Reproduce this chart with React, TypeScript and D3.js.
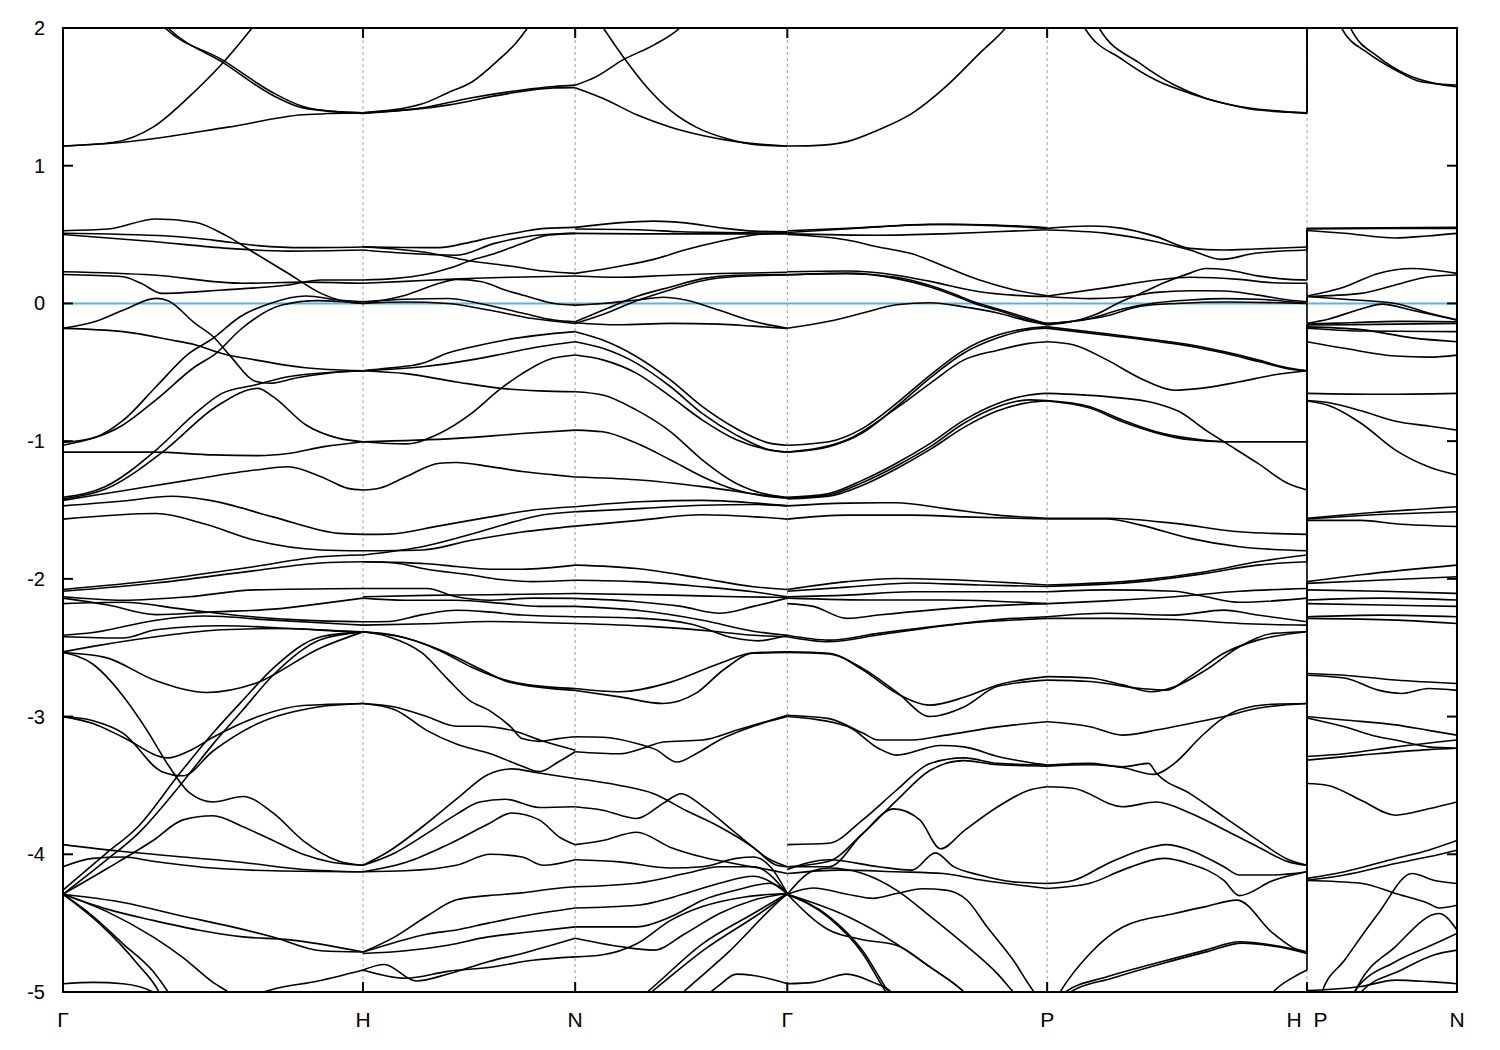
import React from 'react';
import * as d3 from 'd3';

// High-symmetry path (k-distance, bcc lattice units)
const kLabels = ['Γ', 'H', 'N', 'Γ', 'P', 'H  P', 'N'];
const kNodes = [0, 1, 1.7071, 2.4142, 3.2802, 4.1463, 4.6463];
const segStarts = [0, 1, 1.7071, 2.4142, 3.2802, 4.1463];
const segEnds = [1, 1.7071, 2.4142, 3.2802, 4.1463, 4.6463];
const yTicks = [2, 1, 0, -1, -2, -3, -4, -5];
const fermiEnergy = 0;

// Each band: [t, E, t, E, ...], t = position along segment in tenths (0..10), E in eV
const bandsGH = [
  [0,1.143, 1.7,1.17, 3,1.28, 4.2,1.5, 5.3,1.74, 6.3,2.0, 7,2.2],
  [0,1.143, 2,1.17, 5.5,1.28, 8,1.37, 10,1.385],
  [2.6,2.2, 3.4,2.0, 5.3,1.77, 7,1.53, 8,1.43, 9,1.395, 10,1.385],
  [2.7,2.2, 3.5,2.0, 5.4,1.74, 7,1.51, 8,1.42, 10,1.38],
  [0,0.528, 1.5,0.54, 3.1,0.613, 4.4,0.59, 5.5,0.485, 6.4,0.364, 7.5,0.219, 8.6,0.073, 9.5,0.01, 10,0.0],
  [0,0.51, 3.5,0.49, 5,0.46, 6.5,0.42, 8,0.405, 10,0.41],
  [0,0.50, 3,0.45, 5.5,0.40, 7.5,0.38, 10,0.388],
  [0,0.23, 3,0.206, 6,0.146, 8,0.155, 10,0.146],
  [0,0.21, 2,0.194, 2.6,0.146, 3.3,0.073, 5.3,0.097, 7.5,0.134, 8.6,0.17, 10,0.17],
  [0,-0.181, 1.1,-0.13, 2,-0.05, 3.1,0.037, 3.5,0.02, 4.4,-0.145, 5,-0.24, 5.6,-0.388, 6.4,-0.565, 6.9,-0.58, 7.8,-0.54, 8.9,-0.505, 10,-0.489],
  [0,-0.181, 2,-0.205, 3.6,-0.265, 4.4,-0.30, 5.3,-0.363, 6.4,-0.41, 8,-0.465, 10,-0.489],
  [0,-1.01, 1.1,-0.97, 2,-0.85, 3.1,-0.605, 4.2,-0.363, 5,-0.254, 5.9,-0.097, 6.9,0.0, 8.1,0.054, 9.2,0.025, 10,0.012],
  [0,-1.03, 2,-0.883, 3.1,-0.70, 4.4,-0.46, 5.1,-0.363, 5.9,-0.193, 7.3,-0.012, 8.5,0.02, 10,0.0],
  [0,-1.08, 3,-1.08, 5,-1.10, 6.5,-1.105, 7.5,-1.09, 8.7,-1.04, 10,-1.004],
  [0,-1.408, 1.4,-1.331, 3.1,-1.065, 4.4,-0.80, 5.3,-0.653, 6.4,-0.593, 7.5,-0.532, 10,-0.489],
  [0,-1.42, 1.4,-1.35, 3.4,-1.065, 5.1,-0.75, 6.5,-0.617, 7,-0.677, 8.1,-0.883, 9.2,-0.98, 10,-1.004],
  [0,-1.43, 2,-1.36, 4.2,-1.283, 6.4,-1.21, 7.5,-1.186, 8.6,-1.258, 9.5,-1.343, 10,-1.355],
  [0,-1.47, 2,-1.435, 3.6,-1.40, 4.9,-1.43, 7,-1.55, 9.2,-1.67, 10,-1.677],
  [0,-1.566, 3.1,-1.525, 4.7,-1.60, 6.4,-1.72, 8.6,-1.79, 10,-1.796],
  [0,-2.077, 3.1,-2.01, 6.4,-1.91, 8.6,-1.84, 10,-1.827],
  [0,-2.09, 3.1,-2.03, 6.4,-1.94, 8.6,-1.885, 10,-1.876],
  [0,-2.13, 2,-2.155, 4.2,-2.13, 6.4,-2.08, 10,-2.07],
  [0,-2.14, 1.5,-2.19, 3.1,-2.26, 5,-2.24, 7,-2.22, 8.6,-2.18, 10,-2.14],
  [0,-2.18, 2,-2.17, 4,-2.22, 6,-2.27, 8,-2.30, 10,-2.312],
  [0,-2.41, 1,-2.39, 3.1,-2.30, 4.7,-2.27, 7,-2.30, 10,-2.336],
  [0,-2.42, 2,-2.43, 3.1,-2.37, 5.3,-2.34, 7.5,-2.36, 10,-2.384],
  [0,-2.53, 1,-2.49, 3.1,-2.42, 5.3,-2.37, 7.5,-2.36, 9.2,-2.38, 10,-2.384],
  [0,-2.535, 1.4,-2.57, 3.1,-2.74, 4.8,-2.825, 6.4,-2.76, 8.6,-2.50, 10,-2.385],
  [0,-4.26, 1.4,-4.0, 2.5,-3.8, 3.9,-3.41, 5,-3.12, 6,-2.88, 7,-2.65, 8.6,-2.42, 10,-2.385],
  [0,-4.29, 1.4,-4.05, 2.5,-3.85, 3.9,-3.5, 5,-3.2, 6,-2.95, 7,-2.70, 8.6,-2.44, 10,-2.385],
  [0,-3.0, 1,-3.05, 2,-3.15, 3.5,-3.30, 4.2,-3.25, 5,-3.15, 6.5,-3.0, 8,-2.92, 10,-2.905],
  [0,-3.0, 1,-3.03, 2,-3.12, 3.3,-3.40, 4,-3.43, 5,-3.25, 6.5,-3.05, 8.5,-2.93, 10,-2.905],
  [0,-2.535, 1,-2.62, 2,-2.85, 2.8,-3.1, 3.5,-3.35, 4.2,-3.55, 5,-3.62, 6,-3.58, 7,-3.7, 8,-3.9, 9.2,-4.05, 10,-4.08],
  [0,-3.93, 2,-3.98, 4,-4.02, 6,-4.06, 8,-4.11, 10,-4.127],
  [0,-4.09, 1,-4.03, 2,-4.02, 3,-4.05, 5,-4.10, 7,-4.12, 10,-4.127],
  [0,-4.29, 1.5,-4.1, 3,-3.9, 4,-3.75, 5,-3.72, 6,-3.8, 7,-3.9, 8,-4.0, 9,-4.06, 10,-4.08],
  [0,-4.29, 1,-4.45, 2,-4.65, 3,-4.85, 3.5,-5.0, 4,-5.2],
  [0,-4.29, 1.2,-4.5, 2.5,-4.8, 3.2,-5.0, 3.6,-5.2],
  [0,-4.29, 1.5,-4.42, 3,-4.6, 4,-4.75, 5,-4.93, 5.5,-5.0, 6,-5.1],
  [0,-4.29, 1.5,-4.40, 3,-4.48, 4.5,-4.55, 6,-4.6, 7.5,-4.62, 10,-4.71],
  [0,-4.29, 2,-4.35, 4,-4.45, 5.5,-4.52, 7,-4.6, 8.6,-4.7, 10,-4.71],
  [0,-4.94, 1,-4.93, 2,-4.94, 3,-5.0, 3.5,-5.1],
  [6,-5.05, 7,-4.98, 8.5,-4.92, 10,-4.84],
];

const bandsHN = [
  [0,1.385, 2.8,1.45, 4,1.53, 5.15,1.61, 6.4,1.77, 7.2,1.89, 7.75,2.0, 8.5,2.2],
  [0,1.385, 2.8,1.42, 5,1.49, 7.5,1.55, 9,1.575, 10,1.585],
  [0,1.38, 4,1.44, 6.7,1.52, 9,1.565, 10,1.567],
  [0,0.412, 3.6,0.405, 4.8,0.436, 6.2,0.484, 7.5,0.521, 8.6,0.545, 10,0.552],
  [0,0.388, 2,0.364, 4.4,0.35, 6.2,0.436, 8.3,0.497, 10,0.509],
  [0,0.17, 1.55,0.182, 2.8,0.206, 4.05,0.255, 5.15,0.315, 6.24,0.364, 7.5,0.436, 8.75,0.497, 10,0.509],
  [0,0.41, 3,0.37, 5,0.31, 7,0.27, 8.5,0.235, 10,0.218],
  [0,0.146, 2,0.16, 4,0.175, 7,0.19, 10,0.199],
  [0,0.0, 2,0.06, 3.6,0.146, 4.4,0.175, 5.6,0.158, 6.7,0.097, 7.8,0.049, 9,0.0, 10,-0.012],
  [0,0.012, 2,0.03, 4,0.036, 5.5,0.0, 7.5,-0.07, 9,-0.12, 10,-0.133],
  [0,0.0, 2,0.01, 4,0.0, 6,-0.05, 8,-0.11, 10,-0.145],
  [0,-0.489, 1.2,-0.47, 2.8,-0.435, 4,-0.36, 5.6,-0.30, 6.7,-0.265, 8.3,-0.23, 10,-0.205],
  [0,-0.489, 2.8,-0.46, 5.1,-0.41, 6.7,-0.363, 8.3,-0.315, 10,-0.278],
  [0,-1.004, 2,-1.02, 3.6,-0.944, 5.1,-0.80, 6.4,-0.63, 7.5,-0.51, 8.7,-0.41, 10,-0.375],
  [0,-0.489, 2,-0.51, 4.4,-0.57, 6.4,-0.615, 8.3,-0.635, 10,-0.641],
  [0,-1.004, 4.4,-0.98, 7.5,-0.945, 10,-0.92],
  [0,-1.355, 0.8,-1.34, 2,-1.26, 3.6,-1.16, 4.4,-1.155, 6,-1.185, 7.5,-1.22, 9,-1.245, 10,-1.26],
  [0,-1.677, 1.2,-1.675, 3.6,-1.615, 6,-1.55, 8,-1.50, 10,-1.476],
  [0,-1.796, 2.8,-1.79, 5.1,-1.72, 7.5,-1.66, 10,-1.617],
  [0,-1.827, 3,-1.76, 5,-1.68, 7,-1.59, 8.5,-1.535, 10,-1.513],
  [0,-1.876, 1.5,-1.88, 3,-1.89, 4.4,-1.91, 6,-1.93, 7.5,-1.93, 10,-1.90],
  [0,-1.876, 1.5,-1.885, 3,-1.93, 5,-1.97, 6.5,-2.005, 8,-2.02, 10,-2.01],
  [0,-2.07, 3,-2.07, 4.4,-2.13, 6,-2.155, 8,-2.14, 10,-2.142],
  [0,-2.14, 2,-2.155, 4.4,-2.155, 6.7,-2.18, 8.3,-2.2, 10,-2.2],
  [0,-2.13, 3,-2.12, 6,-2.115, 10,-2.106],
  [0,-2.312, 1.2,-2.31, 2.8,-2.26, 4.4,-2.228, 5.9,-2.24, 7.5,-2.263, 10,-2.275],
  [0,-2.336, 3,-2.326, 6,-2.31, 10,-2.324],
  [0,-2.384, 1.5,-2.41, 3.6,-2.52, 5.1,-2.64, 6.7,-2.735, 7.8,-2.77, 10,-2.796],
  [0,-2.384, 2,-2.43, 4,-2.54, 5.6,-2.66, 6.9,-2.75, 10,-2.81],
  [0,-2.384, 1.2,-2.42, 2.8,-2.54, 4,-2.73, 5,-2.88, 6,-2.96, 7,-3.08, 7.5,-3.16, 8.3,-3.18, 9.2,-3.16, 10,-3.147],
  [0,-2.905, 1.5,-2.93, 3,-3.0, 4.4,-3.07, 5.5,-3.07, 7,-3.1, 8.5,-3.18, 10,-3.244],
  [0,-2.905, 1.5,-2.95, 3,-3.1, 4.4,-3.2, 6,-3.27, 7.5,-3.36, 8.3,-3.40, 9.2,-3.33, 10,-3.255],
  [0,-4.08, 1.2,-3.98, 2.8,-3.8, 4.4,-3.6, 5.9,-3.42, 7,-3.38, 8.3,-3.41, 10,-3.45],
  [0,-4.08, 1.5,-3.99, 3,-3.85, 4.4,-3.71, 5.5,-3.62, 6.7,-3.60, 8.3,-3.66, 10,-3.655],
  [0,-4.127, 2,-4.06, 4,-3.93, 5.9,-3.78, 7,-3.70, 8.3,-3.75, 9.3,-3.88, 10,-3.93],
  [0,-4.127, 2,-4.12, 4.4,-4.08, 6,-4.0, 7.5,-4.02, 8.5,-4.08, 10,-4.04],
  [0,-4.71, 1.5,-4.6, 3,-4.45, 4.4,-4.33, 5.9,-4.3, 7.5,-4.28, 9,-4.25, 10,-4.236],
  [0,-4.71, 1.5,-4.64, 3,-4.58, 4.4,-4.55, 5.9,-4.5, 7.5,-4.45, 10,-4.39],
  [0,-4.72, 2,-4.70, 4,-4.66, 5.9,-4.6, 7.5,-4.57, 10,-4.527],
  [0,-4.84, 1,-4.80, 2.5,-4.92, 4,-4.87, 5.9,-4.78, 7.5,-4.72, 10,-4.61],
  [0,-4.84, 2,-4.90, 4,-4.85, 6,-4.82, 8,-4.77, 10,-4.745],
];

const bandsNG = [
  [0.5,2.2, 1.33,2.0, 2.27,1.79, 3.5,1.55, 4.5,1.40, 5.7,1.28, 7.3,1.19, 8.5,1.153, 10,1.143],
  [0,1.585, 1,1.647, 2.27,1.77, 3.7,1.876, 4.93,2.0, 6,2.2],
  [0,1.567, 1.3,1.49, 2.9,1.37, 4.5,1.28, 6,1.22, 7.6,1.175, 10,1.143],
  [0,0.552, 2,0.585, 3.7,0.598, 5.2,0.585, 6.8,0.55, 8.4,0.525, 10,0.52],
  [0,0.54, 3,0.535, 5,0.52, 7,0.515, 10,0.51],
  [0,0.509, 3,0.505, 6,0.505, 10,0.505],
  [0,0.218, 2.1,0.27, 3.7,0.32, 5.2,0.39, 6.8,0.45, 8.4,0.497, 10,0.515],
  [0,0.199, 2,0.19, 4.5,0.205, 6.8,0.217, 10,0.226],
  [0,-0.133, 1.3,-0.05, 2.9,0.05, 4.5,0.12, 6,0.18, 7.6,0.205, 10,0.21],
  [0,-0.145, 1.3,-0.08, 2.9,0.02, 4.5,0.10, 6,0.165, 7.6,0.195, 10,0.206],
  [0,-0.012, 1.3,0.0, 2.9,0.025, 4.15,0.045, 5.2,0.025, 6.8,-0.05, 8.4,-0.13, 10,-0.18],
  [0,-0.14, 2,-0.155, 4.5,-0.145, 6.8,-0.15, 8.4,-0.165, 10,-0.181],
  [0,-0.205, 1.3,-0.266, 2.9,-0.387, 4.5,-0.557, 6,-0.75, 7.6,-0.91, 9.2,-1.016, 10,-1.03],
  [0,-0.278, 1.3,-0.326, 2.9,-0.435, 4.5,-0.605, 6,-0.80, 7.6,-0.956, 9.2,-1.065, 10,-1.08],
  [0,-0.375, 1.3,-0.41, 2.9,-0.508, 4.5,-0.677, 6,-0.847, 7.6,-0.99, 9.2,-1.065, 10,-1.08],
  [0,-0.641, 1.3,-0.665, 2.9,-0.775, 4.5,-0.932, 6,-1.137, 7.6,-1.307, 9.2,-1.392, 10,-1.408],
  [0,-0.92, 1.3,-0.932, 2.9,-1.016, 4.5,-1.137, 6,-1.258, 7.6,-1.355, 9.2,-1.404, 10,-1.415],
  [0,-1.26, 2.9,-1.28, 6,-1.33, 9.2,-1.40, 10,-1.415],
  [0,-1.476, 3,-1.44, 6,-1.43, 8.5,-1.45, 10,-1.47],
  [0,-1.513, 3,-1.49, 6,-1.465, 8.5,-1.46, 10,-1.47],
  [0,-1.617, 3,-1.575, 6,-1.535, 8.5,-1.55, 10,-1.566],
  [0,-1.90, 2.9,-1.925, 6,-1.997, 8.4,-2.057, 10,-2.077],
  [0,-2.01, 2.9,-2.02, 6,-2.057, 8.4,-2.094, 10,-2.13],
  [0,-2.106, 4.5,-2.118, 7.6,-2.13, 10,-2.135],
  [0,-2.142, 2.9,-2.166, 5,-2.2, 6.8,-2.25, 8.4,-2.2, 10,-2.14],
  [0,-2.2, 3,-2.23, 6,-2.30, 8.4,-2.38, 10,-2.41],
  [0,-2.275, 3,-2.285, 5.5,-2.33, 7.5,-2.43, 8.6,-2.45, 10,-2.41],
  [0,-2.324, 3.5,-2.345, 6.5,-2.38, 8.4,-2.41, 10,-2.42],
  [0,-2.796, 2.1,-2.82, 4.5,-2.75, 6.8,-2.614, 8.4,-2.537, 10,-2.53],
  [0,-2.81, 2.1,-2.857, 4.15,-2.905, 5.7,-2.83, 7,-2.66, 8.4,-2.54, 10,-2.535],
  [0,-3.147, 1.3,-3.15, 2.9,-3.195, 3.8,-3.24, 4.8,-3.33, 5.7,-3.27, 6.8,-3.17, 8.4,-3.07, 10,-3.0],
  [0,-3.255, 2.1,-3.27, 3.2,-3.23, 4.15,-3.185, 6,-3.17, 7.6,-3.10, 10,-2.99],
  [0,-3.45, 2.1,-3.5, 3.7,-3.56, 5.2,-3.68, 6.8,-3.8, 8.4,-3.95, 9.5,-4.08, 10,-4.09],
  [0,-3.655, 1.3,-3.68, 2.9,-3.74, 4.15,-3.63, 5,-3.56, 6,-3.65, 7.6,-3.85, 9.2,-4.04, 10,-4.09],
  [0,-3.93, 1.3,-3.9, 2.9,-3.84, 4.5,-3.95, 6,-4.02, 7.6,-4.07, 9.2,-4.115, 10,-4.14],
  [0,-4.04, 2.1,-4.055, 4.5,-4.1, 6,-4.09, 7.6,-4.03, 8.4,-4.02, 9.2,-4.09, 10,-4.285],
  [0,-4.236, 2.9,-4.21, 5.2,-4.14, 6.8,-4.09, 8.4,-4.09, 10,-4.285],
  [0,-4.39, 2.9,-4.37, 5.2,-4.285, 6.8,-4.21, 8.4,-4.16, 10,-4.285],
  [0,-4.527, 2.9,-4.527, 4.5,-4.454, 6,-4.333, 7.6,-4.26, 9.2,-4.21, 10,-4.285],
  [0,-4.61, 2.1,-4.67, 3.7,-4.696, 5.2,-4.575, 6.8,-4.43, 8.4,-4.333, 10,-4.285],
  [0,-4.745, 1.3,-4.73, 2.9,-4.65, 4.5,-4.48, 6,-4.38, 8,-4.31, 10,-4.285],
  [2.6,-5.1, 3.4,-5.0, 6,-4.65, 8.4,-4.43, 10,-4.285],
  [2.8,-5.1, 3.6,-5.0, 6.2,-4.68, 8.5,-4.45, 10,-4.29],
  [4.4,-5.1, 5.1,-5.0, 7.3,-4.7, 9.2,-4.4, 10,-4.285],
  [6,-5.05, 6.8,-4.95, 7.6,-4.87, 8.4,-4.88, 10,-4.94],
];

const bandsGP = [
  [0,1.143, 1,1.146, 2.3,1.175, 3.5,1.26, 4.8,1.38, 6.1,1.574, 7.4,1.816, 8.4,2.0, 9.5,2.3],
  [0,0.528, 2.3,0.545, 4.8,0.57, 6.1,0.575, 8,0.57, 10,0.55],
  [0,0.515, 3,0.55, 5.5,0.574, 8,0.565, 10,0.545],
  [0,0.505, 3.5,0.495, 6,0.505, 8,0.52, 10,0.535],
  [0,0.50, 2.3,0.46, 3.5,0.41, 4.8,0.36, 6.1,0.265, 7.4,0.17, 8.7,0.10, 10,0.055],
  [0,0.23, 2.3,0.235, 4.2,0.205, 5.5,0.16, 7.4,0.085, 8.7,0.06, 10,0.05],
  [0,0.206, 2.3,0.22, 4.2,0.18, 5.5,0.12, 6.4,0.06, 7.2,0.0, 8.1,-0.05, 9.3,-0.12, 10,-0.145],
  [0,0.21, 2.3,0.215, 4.2,0.19, 5.5,0.13, 6.4,0.07, 7.2,0.01, 8.1,-0.04, 9.3,-0.11, 10,-0.15],
  [0,-0.18, 1.6,-0.13, 2.9,-0.07, 4.2,-0.01, 5.5,0.005, 6.8,-0.025, 8.1,-0.07, 9.3,-0.13, 10,-0.157],
  [0,-1.03, 1.6,-1.004, 2.9,-0.907, 4.2,-0.726, 5.5,-0.52, 6.8,-0.339, 8.1,-0.23, 9.3,-0.18, 10,-0.17],
  [0,-1.08, 1.6,-1.04, 2.9,-0.94, 4.2,-0.75, 5.5,-0.54, 6.8,-0.36, 8.1,-0.25, 9.3,-0.19, 10,-0.18],
  [0,-1.08, 2.3,-0.99, 4.2,-0.76, 5.5,-0.58, 6.8,-0.41, 8.1,-0.34, 9.3,-0.29, 10,-0.278],
  [0,-1.408, 1.6,-1.38, 2.9,-1.283, 4.2,-1.16, 5.5,-1.016, 6.8,-0.847, 8.1,-0.726, 9.3,-0.665, 10,-0.653],
  [0,-1.415, 1.6,-1.39, 2.9,-1.30, 4.2,-1.18, 5.5,-1.04, 6.8,-0.87, 8.1,-0.75, 9.3,-0.70, 10,-0.705],
  [0,-1.42, 1.6,-1.40, 2.9,-1.32, 4.2,-1.20, 5.5,-1.06, 6.8,-0.90, 8.1,-0.78, 9.3,-0.72, 10,-0.709],
  [0,-1.47, 2.3,-1.45, 4.2,-1.447, 6.1,-1.49, 8.1,-1.537, 10,-1.56],
  [0,-1.566, 2.3,-1.537, 4.8,-1.537, 6.8,-1.55, 10,-1.565],
  [0,-2.077, 2.3,-2.02, 4.2,-1.997, 6.8,-2.01, 10,-2.045],
  [0,-2.09, 2.3,-2.06, 4.8,-2.03, 7.4,-2.045, 10,-2.055],
  [0,-2.13, 2.3,-2.118, 4.8,-2.094, 10,-2.094],
  [0,-2.14, 3.5,-2.154, 6.1,-2.154, 10,-2.18],
  [0,-2.18, 1,-2.2, 2.3,-2.287, 3.5,-2.263, 5.5,-2.227, 7.4,-2.2, 10,-2.18],
  [0,-2.41, 1.6,-2.445, 3.5,-2.396, 6.1,-2.336, 8.7,-2.287, 10,-2.275],
  [0,-2.42, 1.6,-2.457, 3.5,-2.408, 6.8,-2.324, 10,-2.287],
  [0,-2.53, 1.6,-2.54, 2.9,-2.66, 4.2,-2.83, 5.5,-2.917, 6.8,-2.86, 8.1,-2.77, 10,-2.71],
  [0,-2.535, 1.6,-2.545, 2.9,-2.65, 4.2,-2.82, 5.5,-3.0, 6.8,-2.93, 8.1,-2.78, 10,-2.735],
  [0,-2.99, 1.6,-3.015, 2.9,-3.12, 3.5,-3.17, 4.8,-3.17, 6.1,-3.135, 8.1,-3.075, 10,-3.038],
  [0,-3.0, 2.3,-3.07, 3.5,-3.23, 4.2,-3.28, 5.9,-3.21, 6.8,-3.22, 8.1,-3.29, 10,-3.352],
  [0,-3.93, 1.6,-3.92, 2.9,-3.75, 4.2,-3.535, 5.5,-3.34, 6.8,-3.30, 8.1,-3.34, 10,-3.352],
  [0,-4.09, 1.6,-4.05, 2.9,-3.85, 4.2,-3.61, 5.5,-3.39, 6.8,-3.32, 8.1,-3.35, 10,-3.36],
  [0,-4.09, 1.6,-4.09, 2.9,-3.85, 4.1,-3.67, 5.1,-3.75, 5.9,-3.96, 6.8,-3.83, 8.1,-3.655, 9.3,-3.535, 10,-3.51],
  [0,-4.11, 1.6,-4.04, 3.5,-4.09, 4.8,-4.115, 5.7,-3.99, 6.4,-4.09, 7.4,-4.15, 8.7,-4.2, 10,-4.212],
  [0,-4.14, 2,-4.115, 4.2,-4.127, 6,-4.14, 7.4,-4.185, 10,-4.248],
  [0,-4.29, 1,-4.245, 2.3,-4.29, 3.3,-4.32, 4.2,-4.285, 5.2,-4.25, 6.1,-4.26, 6.9,-4.33, 7.7,-4.53, 8.7,-4.77, 9.5,-5.0, 10,-5.1],
  [0,-4.29, 1.6,-4.45, 2.9,-4.7, 3.9,-5.0, 4.3,-5.1],
  [0,-4.29, 1.6,-4.46, 2.9,-4.72, 3.8,-5.0, 4.2,-5.1],
  [0,-4.29, 2.3,-4.45, 4.2,-4.65, 5.5,-4.82, 6.8,-5.0, 7.3,-5.1],
  [0,-4.29, 1.6,-4.55, 2.9,-4.62, 4.2,-4.66, 5.5,-4.82, 6.8,-5.0, 7.3,-5.1],
  [0,-4.29, 1,-4.12, 1.6,-4.1, 2.9,-4.14, 4.2,-4.26, 5.5,-4.45, 6.8,-4.65, 8.1,-4.87, 8.7,-5.0, 9.2,-5.1],
  [0,-4.94, 1,-4.93, 2.3,-4.87, 3.3,-4.93, 4,-5.0, 4.4,-5.1],
];

const bandsPH = [
  [0,2.8, 0.7,2.3, 1.45,2.0, 2.9,1.77, 4.2,1.62, 5.5,1.525, 6.8,1.453, 8.1,1.404, 10,1.385],
  [0,2.9, 1.3,2.3, 2.0,2.0, 3.6,1.74, 4.9,1.586, 6.1,1.49, 7.4,1.43, 8.7,1.40, 10,1.38],
  [0,0.545, 1.65,0.562, 2.9,0.545, 4.2,0.485, 5.5,0.40, 6.8,0.388, 8,0.395, 10,0.41],
  [0,0.533, 2.3,0.509, 4.2,0.448, 5.5,0.388, 6.7,0.32, 8,0.364, 10,0.388],
  [0,-0.157, 1,-0.13, 2,-0.07, 2.7,0.0, 3.6,0.073, 4.5,0.15, 5.5,0.22, 6.1,0.254, 6.9,0.245, 8.1,0.2, 9.3,0.175, 10,0.17],
  [0,0.054, 2.3,0.115, 4.2,0.17, 5.5,0.19, 7.4,0.175, 8.7,0.15, 10,0.146],
  [0,0.05, 1.65,0.035, 2.9,0.045, 4.2,0.08, 5.5,0.092, 6.8,0.09, 8.1,0.06, 9.3,0.025, 10,0.012],
  [0,-0.145, 1.65,-0.109, 2.9,-0.04, 4.2,0.005, 5.5,0.025, 6.8,0.035, 8.1,0.03, 10,0.0],
  [0,-0.15, 2.3,-0.09, 3.6,-0.02, 5,0.0, 7,0.01, 10,0.0],
  [0,-0.17, 2.3,-0.22, 4.2,-0.266, 5.5,-0.30, 6.8,-0.35, 8.1,-0.41, 9.3,-0.47, 10,-0.489],
  [0,-0.18, 2.3,-0.23, 4.2,-0.275, 5.5,-0.31, 6.8,-0.36, 8.1,-0.42, 9.3,-0.475, 10,-0.489],
  [0,-0.278, 1,-0.30, 2.3,-0.41, 3.6,-0.545, 4.9,-0.63, 5.9,-0.617, 7.4,-0.569, 8.7,-0.52, 10,-0.489],
  [0,-0.653, 2.3,-0.677, 4.2,-0.726, 5.1,-0.787, 6.1,-0.92, 6.9,-1.016, 8.1,-1.16, 9.3,-1.31, 10,-1.355],
  [0,-0.705, 1.65,-0.75, 2.9,-0.847, 4.2,-0.932, 5.5,-0.98, 6.8,-1.004, 10,-1.004],
  [0,-0.709, 1.65,-0.76, 2.9,-0.86, 4.2,-0.94, 5.5,-0.99, 6.8,-1.004, 10,-1.004],
  [0,-1.56, 2.3,-1.56, 4.9,-1.597, 7.4,-1.658, 10,-1.677],
  [0,-1.565, 2.3,-1.565, 3.6,-1.61, 5.5,-1.706, 7.4,-1.767, 10,-1.796],
  [0,-2.045, 3.6,-2.009, 6.1,-1.948, 8.1,-1.876, 10,-1.827],
  [0,-2.055, 3.6,-2.02, 6.1,-1.96, 8.1,-1.9, 10,-1.876],
  [0,-2.094, 2.3,-2.08, 4.9,-2.09, 6.1,-2.13, 7.4,-2.17, 10,-2.14],
  [0,-2.18, 2.3,-2.16, 4.9,-2.13, 7.4,-2.09, 10,-2.07],
  [0,-2.275, 2.3,-2.25, 4.9,-2.263, 6.8,-2.227, 8.1,-2.263, 10,-2.312],
  [0,-2.287, 2.3,-2.287, 4.9,-2.295, 7.4,-2.324, 10,-2.336],
  [0,-2.71, 1.65,-2.72, 2.9,-2.77, 4,-2.82, 4.9,-2.784, 6.1,-2.663, 7.4,-2.493, 8.7,-2.396, 10,-2.384],
  [0,-2.735, 1.65,-2.745, 3.6,-2.796, 4.6,-2.808, 5.5,-2.71, 6.8,-2.54, 8.1,-2.445, 10,-2.384],
  [0,-3.038, 1.65,-3.074, 2.9,-3.135, 4.2,-3.098, 5.5,-3.05, 6.8,-3.0, 8.1,-2.94, 10,-2.905],
  [0,-3.352, 1.65,-3.34, 2.9,-3.365, 3.9,-3.34, 4.2,-3.41, 5.5,-3.56, 6.8,-3.728, 8.1,-3.897, 9.3,-4.04, 10,-4.08],
  [0,-3.36, 1.65,-3.35, 2.9,-3.37, 4.1,-3.42, 4.9,-3.34, 5.9,-3.15, 6.7,-3.02, 7.4,-2.95, 8.7,-2.91, 10,-2.905],
  [0,-3.51, 1,-3.52, 2.9,-3.655, 4.2,-3.62, 5.5,-3.70, 6.8,-3.82, 8.1,-3.945, 9.3,-4.055, 10,-4.08],
  [0,-4.212, 1,-4.19, 2.3,-4.07, 3.6,-3.97, 4.6,-3.93, 5.5,-3.97, 6.8,-4.09, 7.4,-4.15, 8.7,-4.15, 10,-4.127],
  [0,-4.248, 1.65,-4.21, 2.9,-4.115, 4.5,-4.03, 5.5,-4.07, 6.8,-4.19, 7.4,-4.30, 8.7,-4.19, 10,-4.127],
  [0.2,-5.1, 0.5,-5.0, 1.65,-4.72, 2.9,-4.53, 4.9,-4.43, 6.1,-4.38, 7.3,-4.333, 8.7,-4.575, 9.6,-4.69, 10,-4.71],
  [0.3,-5.1, 0.7,-5.0, 2.3,-4.89, 4.2,-4.79, 6.1,-4.696, 7.4,-4.635, 8.7,-4.66, 10,-4.71],
  [0.5,-5.1, 0.9,-5.0, 2.5,-4.9, 4.3,-4.80, 6.2,-4.705, 7.5,-4.645, 8.8,-4.67, 10,-4.72],
  [8.3,-5.1, 8.7,-5.0, 9.5,-4.89, 10,-4.84],
];

const bandsPN = [
  [0,2.7, 1.5,2.3, 2.3,2.0, 4.1,1.816, 5.9,1.695, 7.6,1.61, 10,1.586],
  [0,2.8, 2,2.3, 2.9,2.0, 4.75,1.79, 6.5,1.67, 8.5,1.598, 10,1.574],
  [0,0.545, 5,0.55, 10,0.552],
  [0,0.54, 5,0.545, 10,0.545],
  [0,0.53, 2.5,0.51, 5.9,0.475, 8,0.49, 10,0.509],
  [0,0.054, 2.5,0.12, 4.75,0.218, 7,0.254, 10,0.218],
  [0,0.05, 3.6,0.073, 5.9,0.134, 8.1,0.194, 10,0.206],
  [0,0.05, 2.5,0.03, 5.9,0.0, 8.1,-0.07, 10,-0.12],
  [0,-0.145, 1.4,-0.115, 3.6,-0.04, 5,-0.005, 7,-0.05, 10,-0.12],
  [0,-0.15, 3,-0.14, 6,-0.13, 10,-0.133],
  [0,-0.157, 3,-0.155, 6,-0.15, 10,-0.145],
  [0,-0.17, 3.6,-0.19, 7,-0.25, 10,-0.278],
  [0,-0.18, 3.6,-0.2, 10,-0.205],
  [0,-0.278, 2.5,-0.326, 5.9,-0.382, 8.1,-0.39, 10,-0.375],
  [0,-0.653, 5,-0.66, 10,-0.653],
  [0,-0.705, 1.4,-0.72, 3.6,-0.78, 5.9,-0.855, 8.1,-0.89, 10,-0.92],
  [0,-0.709, 1.4,-0.74, 3.6,-0.87, 5.9,-1.065, 8.1,-1.186, 10,-1.246],
  [0,-1.56, 3.6,-1.525, 10,-1.476],
  [0,-1.565, 3.6,-1.54, 10,-1.513],
  [0,-1.575, 3.6,-1.575, 5.9,-1.6, 10,-1.62],
  [0,-2.02, 3.6,-1.97, 10,-1.90],
  [0,-2.033, 4.75,-2.01, 10,-1.985],
  [0,-2.08, 5,-2.09, 10,-2.106],
  [0,-2.154, 5,-2.14, 10,-2.154],
  [0,-2.18, 5,-2.19, 10,-2.2],
  [0,-2.275, 5,-2.263, 10,-2.275],
  [0,-2.287, 6,-2.3, 10,-2.324],
  [0,-2.687, 2.5,-2.70, 5.9,-2.735, 10,-2.76],
  [0,-2.70, 2.5,-2.72, 4.75,-2.808, 6.3,-2.832, 8.1,-2.796, 10,-2.81],
  [0,-3.0, 2.5,-3.025, 5.9,-3.06, 8.1,-3.1, 10,-3.135],
  [0,-3.01, 2.5,-3.074, 4.75,-3.147, 5.9,-3.17, 8.1,-3.22, 10,-3.23],
  [0,-3.29, 2.5,-3.27, 5.9,-3.22, 10,-3.17],
  [0,-3.316, 3.6,-3.28, 8.1,-3.24, 10,-3.23],
  [0,-3.486, 1.4,-3.5, 3.6,-3.607, 5.9,-3.716, 8.1,-3.67, 10,-3.62],
  [0,-4.175, 2.5,-4.127, 5.9,-4.03, 8.1,-3.97, 10,-3.9],
  [0,-4.188, 2.5,-4.15, 5.9,-4.067, 8.1,-4.018, 10,-3.97],
  [0,-4.19, 3.6,-4.21, 5.9,-4.285, 8.1,-4.357, 8.8,-4.39, 10,-4.37],
  [0.8,-5.1, 1,-5.0, 2.5,-4.77, 4.75,-4.43, 7,-4.14, 8.5,-4.19, 10,-4.212],
  [2.9,-5.1, 3.2,-5.0, 5.9,-4.67, 8.8,-4.43, 10,-4.55],
  [2.9,-5.05, 3.2,-4.99, 5.9,-4.78, 8.1,-4.67, 10,-4.575],
  [3.3,-5.1, 3.6,-5.0, 6.3,-4.84, 8.5,-4.73, 10,-4.696],
  [0,-4.99, 3.6,-4.96, 5.9,-4.914, 8.1,-4.925, 10,-4.94],
];

const segmentBands = [bandsGH, bandsHN, bandsNG, bandsGP, bandsPH, bandsPN];

const W = 1500;
const H = 1050;
const M = { left: 63, right: 1457, top: 28, bottom: 992 };

export default function App() {
  const x = d3.scaleLinear().domain([kNodes[0], kNodes[kNodes.length - 1]]).range([M.left, M.right]);
  const y = d3.scaleLinear().domain([-5, 2]).range([M.bottom, M.top]);
  const line = d3.line<[number, number]>().x(d => x(d[0])).y(d => y(d[1])).curve(d3.curveMonotoneX);

  const bandPaths: string[] = [];
  segmentBands.forEach((bands, si) => {
    const k0 = segStarts[si];
    const k1 = segEnds[si];
    bands.forEach(b => {
      const pts: [number, number][] = [];
      for (let i = 0; i < b.length; i += 2) pts.push([k0 + ((k1 - k0) * b[i]) / 10, b[i + 1]]);
      bandPaths.push(line(pts) as string);
    });
  });

  // discontinuity H|P: connect band energies by rank
  const endsH = bandsPH.filter(b => b[b.length - 2] === 10).map(b => b[b.length - 1]).sort((a, b) => b - a);
  const startsP = bandsPN.filter(b => b[0] === 0).map(b => b[1]).sort((a, b) => b - a);
  const nJ = Math.min(endsH.length, startsP.length);
  const jumps: [number, number][] = [];
  for (let i = 0; i < nJ; i++) jumps.push([endsH[i], startsP[i]]);
  const kJump = segStarts[5];

  const font = '"Liberation Sans", Arial, Helvetica, sans-serif';

  return (
    <svg width={W} height={H} style={{ position: 'absolute', left: 0, top: 0, background: '#fff' }}>
      <defs>
        <clipPath id="plotClip">
          <rect x={M.left} y={M.top} width={M.right - M.left} height={M.bottom - M.top} />
        </clipPath>
      </defs>
      <rect x={0} y={0} width={W} height={H} fill="#fff" />
      {kNodes.slice(1, -1).map((k, i) => (
        <line key={'g' + i} x1={x(k)} x2={x(k)} y1={M.top} y2={M.bottom} stroke="#a0a0a0" strokeWidth={1} strokeDasharray="3,3" />
      ))}
      <line x1={M.left} x2={M.right} y1={y(fermiEnergy)} y2={y(fermiEnergy)} stroke="#56b4e9" strokeWidth={2} />
      <g clipPath="url(#plotClip)" fill="none" stroke="#000" strokeWidth={1.6} strokeLinejoin="round">
        {bandPaths.map((d, i) => <path key={'b' + i} d={d} />)}
        {jumps.map((j, i) => (
          <line key={'j' + i} x1={x(kJump)} x2={x(kJump)} y1={y(j[0])} y2={y(j[1])} />
        ))}
      </g>
      <rect x={M.left} y={M.top} width={M.right - M.left} height={M.bottom - M.top} fill="none" stroke="#000" strokeWidth={2} />
      {yTicks.map(t => (
        <g key={'yt' + t}>
          <line x1={M.left} x2={M.left + 10} y1={y(t)} y2={y(t)} stroke="#000" strokeWidth={2} />
          <line x1={M.right - 10} x2={M.right} y1={y(t)} y2={y(t)} stroke="#000" strokeWidth={2} />
          <text x={M.left - 18} y={y(t)} textAnchor="end" dominantBaseline="central" fontFamily={font} fontSize={20} fill="#000">{t}</text>
        </g>
      ))}
      {kNodes.map((k, i) => (
        <g key={'xt' + i}>
          <line x1={x(k)} x2={x(k)} y1={M.top} y2={M.top + 10} stroke="#000" strokeWidth={2} />
          <line x1={x(k)} x2={x(k)} y1={M.bottom - 10} y2={M.bottom} stroke="#000" strokeWidth={2} />
          <text x={x(k)} y={M.bottom + 35} textAnchor="middle" fontFamily={font} fontSize={21} fill="#000" style={{ whiteSpace: 'pre' }}>{kLabels[i]}</text>
        </g>
      ))}
    </svg>
  );
}
